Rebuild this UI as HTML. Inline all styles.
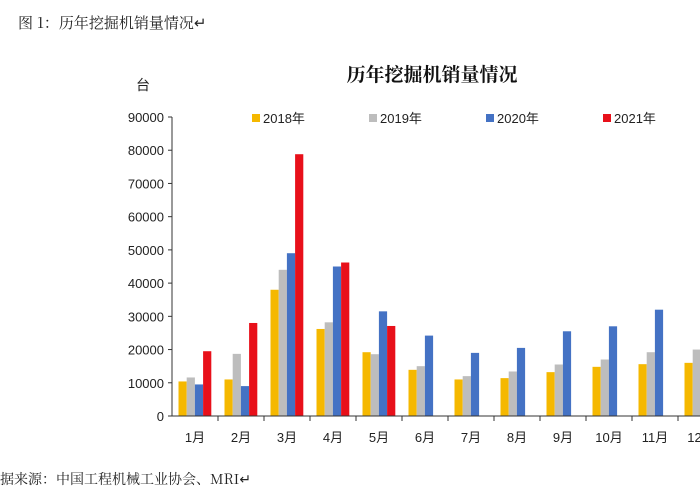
<!DOCTYPE html>
<html><head><meta charset="utf-8"><style>
body{margin:0;background:#fff;width:700px;height:500px;overflow:hidden;font-family:"Liberation Sans","Noto Sans CJK SC",sans-serif}
svg{display:block}
</style></head><body>
<svg width="700" height="500" id="c">
<text x="18" y="28" font-size="15" fill="#222" font-family="Noto Serif CJK SC, serif">图 1：历年挖掘机销量情况↵</text>
<text x="432" y="81" font-size="19" font-weight="bold" text-anchor="middle" fill="#111" font-family="Noto Serif CJK SC, serif">历年挖掘机销量情况</text>
<text x="143" y="90" font-size="14" text-anchor="middle" fill="#222">台</text>
<text x="-14" y="484" font-size="14" fill="#222" font-family="Noto Serif CJK SC, serif">数据来源：中国工程机械工业协会、MRI↵</text>
<g id="plot"></g>
</svg>
<script>
const categories=["1月","2月","3月","4月","5月","6月","7月","8月","9月","10月","11月","12月"];
const seriesNames=["2018年","2019年","2020年","2021年"];
const s2018=[10400,11000,38000,26200,19200,13900,11000,11400,13200,14800,15600,16000];
const s2019=[11600,18700,44000,28200,18600,15000,12000,13400,15500,17000,19200,20000];
const s2020=[9500,9000,49000,45000,31500,24200,19000,20500,25500,27000,32000,36000];
const s2021=[19500,28000,78800,46200,27100,null,null,null,null,null,null,null];
const yTicks=[0,10000,20000,30000,40000,50000,60000,70000,80000,90000];
const colors=["#f5b800","#bdbdbd","#4472c4","#e8101a"];
const NS="http://www.w3.org/2000/svg";
const g=document.getElementById('plot');
const x0=172,y0=416,yTop=117,catW=46,barW=8.2,maxV=90000;
const y=v=>y0-(v/maxV)*(y0-yTop);
const xc=i=>x0+i*catW;
function mk(t,a){const e=document.createElementNS(NS,t);for(const k in a)e.setAttribute(k,a[k]);g.appendChild(e);return e;}
yTicks.forEach(v=>{
 let t=mk('text',{x:x0-8,y:y(v)+5,'font-size':13,'text-anchor':'end',fill:'#222'});t.textContent=v;
 
 
 let l=mk('line',{x1:x0-4,x2:x0,y1:y(v),y2:y(v),stroke:'#333'});
 
 
});
const all=[s2018,s2019,s2020,s2021];
categories.forEach((c,i)=>{
 all.forEach((s,k)=>{
  if(s[i]==null)return;
  let r=mk('rect',{x:xc(i)+6.5+k*barW,y:y(s[i]),width:barW,height:y0-y(s[i]),fill:colors[k]});
  
  
 });
 let t=mk('text',{x:xc(i)+catW/2,y:y0+26,'font-size':13,'text-anchor':'middle',fill:'#222'});t.textContent=c;
 
 
 let tk=mk('line',{x1:xc(i+1),x2:xc(i+1),y1:y0,y2:y0+5,stroke:'#333'});
 
 
});
let ya=mk('line',{x1:x0,x2:x0,y1:yTop,y2:y0,stroke:'#333'});


let xa=mk('line',{x1:x0-4,x2:720,y1:y0,y2:y0,stroke:'#333'});


const lx=[252,369,486,603];
seriesNames.forEach((n,k)=>{
 let r=mk('rect',{x:lx[k],y:114,width:8,height:8,fill:colors[k]});
 
 
 let t=mk('text',{x:lx[k]+11,y:123,'font-size':13,fill:'#222'});t.textContent=n;
 
 
});
</script>
</body></html>
